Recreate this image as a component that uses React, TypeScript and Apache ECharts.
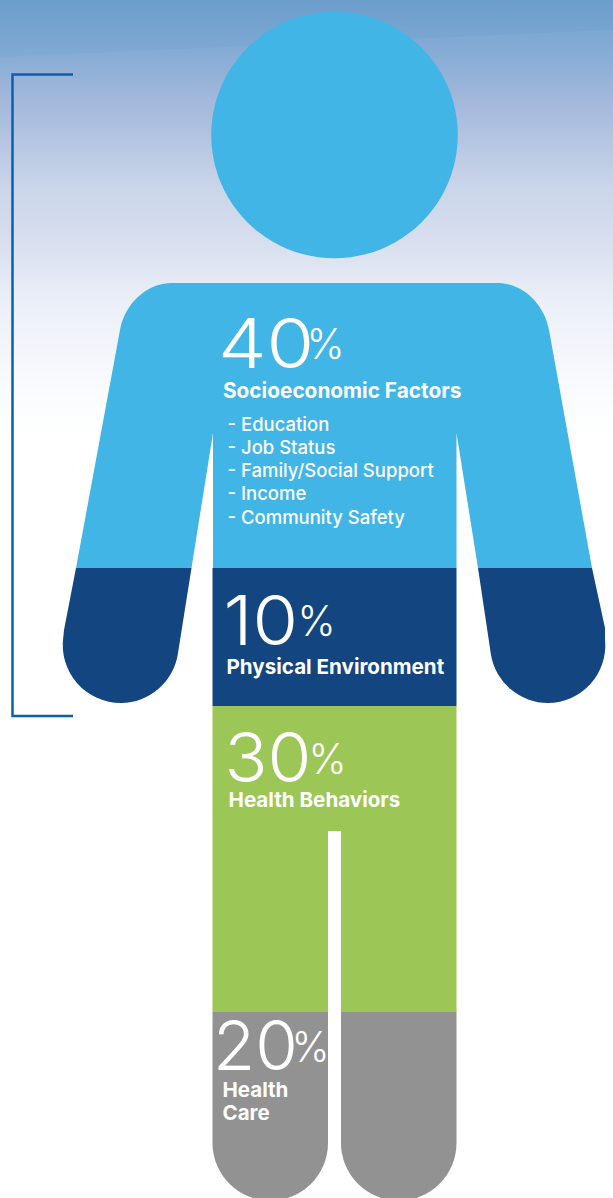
import React, { useEffect, useRef } from "react";
import * as echarts from "echarts";

// Shares of health outcomes by factor, top of the figure to the bottom.
const shareValues = [40, 10, 30, 20];
const factorNames = ["Socioeconomic Factors", "Physical Environment", "Health Behaviors"];
const healthCareLines = ["Health", "Care"];
const socioeconomicItems = ["- Education", "- Job Status", "- Family/Social Support", "- Income", "- Community Safety"];

const WIDTH = 613;
const HEIGHT = 1198;
const FONT = "Inter, 'Noto Sans', sans-serif";
const WHITE = "#ffffff";
const SKY_BLUE = "#41b5e6";
const NAVY = "#134680";
const GREEN = "#9cc655";
const GRAY = "#929292";
const SKY_HEIGHT = 440;

// Silhouette pieces in axis units; the axes span the canvas one unit per pixel.
const figurePieces = [
  { fill: SKY_BLUE, d: "M120 330C125 303 147 283 172 283L497 283C522 283 544 303 549 330L592 568L478 568L456.5 433L456.5 568L213 568L213 433L191.5 568L76 568Z" },
  { fill: NAVY, d: "M76 568L191.5 568L178 653A58 58 0 0 1 121 703A58 58 0 0 1 63.3 637L64 630Z" },
  { fill: NAVY, d: "M478 568L592 568L605 628L605 640A57.5 57.5 0 0 1 548 703A58 58 0 0 1 491 655Z" },
  { fill: NAVY, d: "M212.5 568L456.5 568L456.5 706L212.5 706Z" },
  { fill: GREEN, d: "M212.5 706L456.5 706L456.5 1012L341 1012L341 831L328 831L328 1012L212.5 1012Z" },
  { fill: GRAY, d: "M212.5 1012L328 1012L328 1143A57.75 57.75 0 0 1 212.5 1143Z" },
  { fill: GRAY, d: "M341 1012L456.5 1012L456.5 1143A57.75 57.75 0 0 1 341 1143Z" },
];

const percentStyles = [
  { x: 218, y: 343, stretch: 1.12, signX: 306.5, signY: 344 },
  { x: 223.5, y: 620, stretch: 1.07, signX: 297.5, signY: 621 },
  { x: 224.5, y: 757, stretch: 1.03, signX: 308.5, signY: 759 },
  { x: 213, y: 1045, stretch: 1.0, signX: 291.5, signY: 1047 },
];

type TextMark = { text: string; x: number; y: number; size: number; weight: number; stretch: number; leading?: number };

const textMarks: TextMark[] = [
  ...shareValues.flatMap((v, i) => {
    const s = percentStyles[i];
    return [
      { text: String(v), x: s.x, y: s.y, size: 69, weight: 300, stretch: s.stretch, leading: 56 },
      { text: "%", x: s.signX, y: s.signY, size: 42, weight: 300, stretch: 0.97 },
    ];
  }),
  { text: factorNames[0], x: 223, y: 390.5, size: 20.8, weight: 700, stretch: 1 },
  ...socioeconomicItems.map((t, i) => ({ text: t, x: 227.5, y: 423.5 + i * 23.25, size: 18.5, weight: 500, stretch: 1 })),
  { text: factorNames[1], x: 226.5, y: 666.5, size: 20.6, weight: 700, stretch: 1 },
  { text: factorNames[2], x: 228.5, y: 799.5, size: 20.6, weight: 700, stretch: 1 },
  ...healthCareLines.map((t, i) => ({ text: t, x: 222.5, y: 1089.5 + i * 23, size: 20.5, weight: 700, stretch: 1 })),
];

function buildOption() {
  return {
    animation: false,
    grid: { left: 0, right: 0, top: 0, bottom: 0 },
    xAxis: { type: "value", min: 0, max: WIDTH, show: false },
    yAxis: { type: "value", min: 0, max: HEIGHT, inverse: true, show: false },
    series: [
      {
        // Sky wash, its faint streak and the bracket on the left.
        type: "custom",
        coordinateSystem: "cartesian2d",
        silent: true,
        clip: false,
        z: 1,
        data: [[0, 0]],
        encode: { x: 0, y: 1 },
        renderItem: (_: unknown, api: any) => {
          const [ox, oy] = api.coord([0, 0]);
          return {
            type: "group",
            x: ox,
            y: oy,
            children: [
              {
                type: "rect",
                shape: { x: 0, y: 0, width: WIDTH, height: SKY_HEIGHT },
                style: {
                  fill: new echarts.graphic.LinearGradient(0, 0, 0, 1, [
                    { offset: 0, color: "#6b9dcb" },
                    { offset: 50 / SKY_HEIGHT, color: "#7fa8d3" },
                    { offset: 100 / SKY_HEIGHT, color: "#a3b7db" },
                    { offset: 190 / SKY_HEIGHT, color: "#cbd6ea" },
                    { offset: 240 / SKY_HEIGHT, color: "#d7deee" },
                    { offset: 300 / SKY_HEIGHT, color: "#ebeff8" },
                    { offset: 400 / SKY_HEIGHT, color: "#fbfcfe" },
                    { offset: 1, color: "#ffffff" },
                  ]),
                },
              },
              {
                type: "polygon",
                shape: { points: [[0, 57], [613, 30], [613, 95], [0, 120]] },
                style: {
                  fill: new echarts.graphic.LinearGradient(0, 0, 0, 1, [
                    { offset: 0, color: "rgba(255,255,255,0.05)" },
                    { offset: 1, color: "rgba(255,255,255,0)" },
                  ]),
                },
              },
              {
                type: "polyline",
                shape: { points: [[73, 74.5], [12.5, 74.5], [12.5, 716], [73, 716]] },
                style: { fill: "none", stroke: "#0b60ad", lineWidth: 2.5 },
              },
            ],
          };
        },
      },
      {
        // Head and body, one element per coloured band.
        type: "custom",
        coordinateSystem: "cartesian2d",
        silent: true,
        clip: false,
        z: 2,
        data: figurePieces.map((_, i) => [i, 0]),
        encode: { x: 0, y: 1 },
        renderItem: (params: any, api: any) => {
          const [ox, oy] = api.coord([0, 0]);
          const piece = figurePieces[params.dataIndex];
          const children: any[] = [
            { type: "path", shape: { pathData: piece.d }, style: { fill: piece.fill } },
          ];
          if (params.dataIndex === 0) {
            children.push({ type: "circle", shape: { cx: 334.5, cy: 135, r: 123.3 }, style: { fill: SKY_BLUE } });
          }
          return { type: "group", x: ox, y: oy, children };
        },
      },
      {
        // Percentages, factor names and the list of socioeconomic items.
        type: "custom",
        coordinateSystem: "cartesian2d",
        silent: true,
        clip: false,
        z: 3,
        data: textMarks.map((m) => [m.x, m.y]),
        encode: { x: 0, y: 1 },
        renderItem: (params: any, api: any) => {
          const m = textMarks[params.dataIndex];
          const [px, py] = api.coord([m.x, m.y]);
          return {
            type: "text",
            x: px,
            y: py,
            scaleX: m.stretch,
            style: {
              text: m.text,
              fill: WHITE,
              fontFamily: FONT,
              fontSize: m.size,
              fontWeight: m.weight,
              lineHeight: m.leading,
              align: "left",
              verticalAlign: "middle",
            },
          };
        },
      },
    ],
  };
}

export default function App() {
  const ref = useRef<HTMLDivElement>(null);

  useEffect(() => {
    document.body.style.margin = "0";
    const chart = echarts.init(ref.current!, null, { renderer: "svg" });
    chart.setOption(buildOption() as any);
    return () => chart.dispose();
  }, []);

  return <div ref={ref} style={{ width: WIDTH, height: HEIGHT, background: WHITE, overflow: "hidden" }} />;
}
